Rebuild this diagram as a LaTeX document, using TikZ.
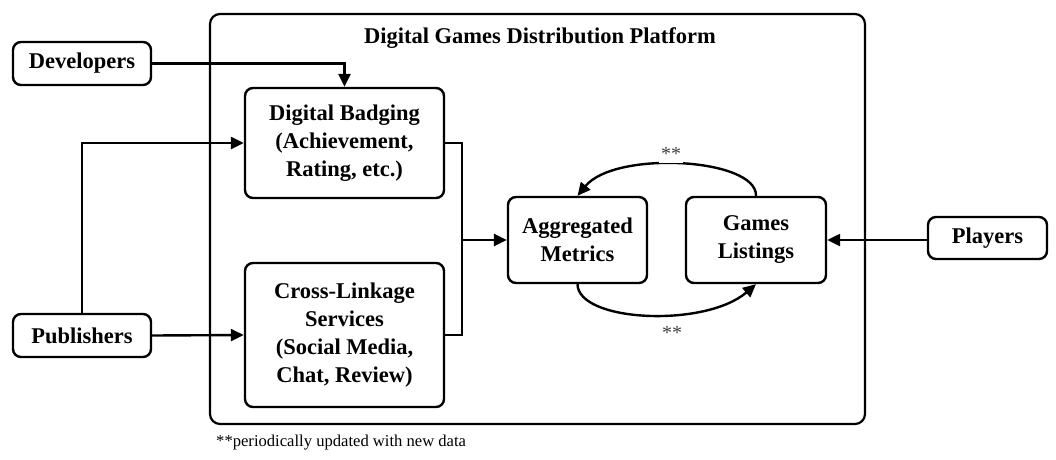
\documentclass[tikz,border=0pt]{standalone}
\usepackage{fontspec}
\setmainfont{Liberation Serif}
\usetikzlibrary{arrows.meta}
\tikzset{
  blk/.style={draw, rounded corners=8pt, line width=2.4pt, align=center, inner sep=0pt,
    font=\bfseries\fontsize{22.5}{28}\selectfont},
  conn/.style={line width=2.4pt},
  arr/.style={conn, -{Triangle[length=13pt,width=12pt]}},
  star/.style={font=\fontsize{20}{22}\selectfont, text=black!75},
}
\begin{document}
\begin{tikzpicture}[x=1pt,y=-1pt]
\useasboundingbox (0,0) rectangle (1056,459);
% platform
\node[draw, rounded corners=10pt, line width=2.2pt, minimum width=655pt, minimum height=410pt, inner sep=0pt] (plat) at (537.5,219) {};
\node[font=\bfseries\fontsize{22.5}{28}\selectfont] (title) at (540,38) {Digital Games Distribution Platform};
% outside
\node[blk, minimum width=138pt, minimum height=43pt] (dev) at (82,63.5) {Developers};
\node[blk, minimum width=138pt, minimum height=43pt] (pub) at (82,335.5) {Publishers};
\node[blk, minimum width=119pt, minimum height=42pt] (play) at (987.5,238) {Players};
% inside
\node[blk, minimum width=199pt, minimum height=110pt] (badge) at (344.5,143) {Digital Badging\\(Achievement,\\Rating, etc.)};
\node[blk, minimum width=199pt, minimum height=144pt] (cross) at (344.5,335) {Cross-Linkage\\Services\\(Social Media,\\Chat, Review)};
\node[blk, minimum width=139pt, minimum height=86pt] (agg) at (577.5,240) {Aggregated\\Metrics};
\node[blk, minimum width=140pt, minimum height=86pt] (games) at (756,240) {Games\\Listings};
% connectors
\draw[arr] (dev.east) -| (badge.north);
\draw[arr] (pub.north) |- (badge.west);
\draw[arr] (pub.east) -- (cross.west);
\coordinate (jn) at (462,240);
\draw[conn] (badge.east) -| (jn);
\draw[conn] (cross.east) -| (jn);
\draw[arr] (jn) -- (agg.west);
\draw[arr] (games.east -| play.west) -- (games.east);
\draw[arr] (games.north) .. controls (757,158) and (615,150) .. (agg.north);
\node[star, fill=white, inner sep=2pt] (s1) at (671,154) {**};
\draw[arr] (agg.south) .. controls (578,322) and (705,328) .. (games.south);
\node[star] (s2) at (672,333) {**};
\node[anchor=west, font=\fontsize{16.6}{20}\selectfont, inner sep=0pt] (note) at (216,443) {**periodically updated with new data};
\end{tikzpicture}
\end{document}
